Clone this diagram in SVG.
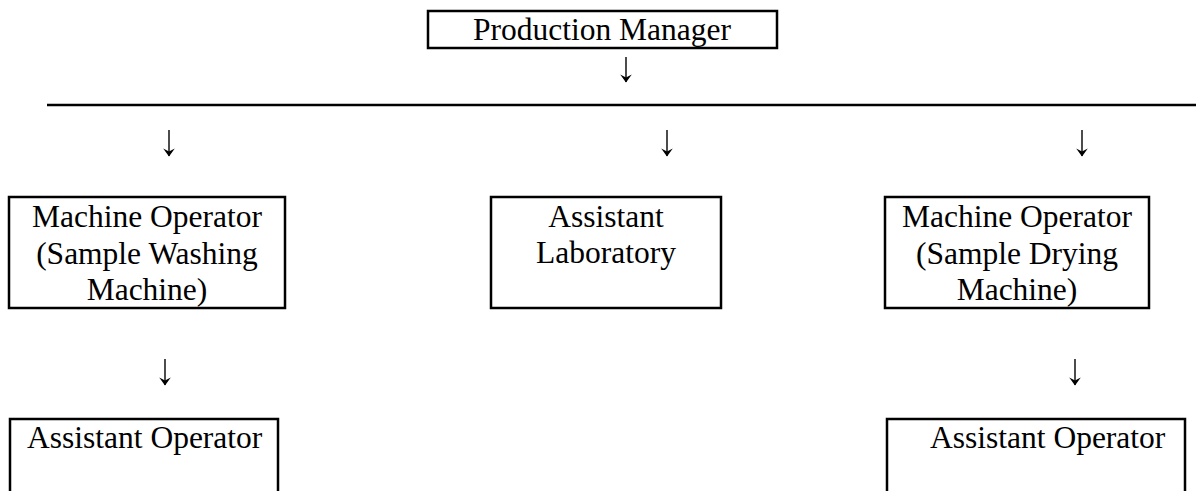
<svg xmlns="http://www.w3.org/2000/svg" width="1196" height="491" viewBox="0 0 1196 491">
<style>
.box{fill:#fff;stroke:#000;stroke-width:2.5}
.t{font-family:"Liberation Serif","Times New Roman",serif;font-size:31.5px;fill:#000}
.c{text-anchor:middle}
.arr{stroke:#000;stroke-width:1.4;fill:none;marker-end:url(#head)}
</style>
<defs>
<marker id="head" markerUnits="userSpaceOnUse" viewBox="-8 -6.5 9 13" refX="0" refY="0" markerWidth="9" markerHeight="13" orient="auto">
<path d="M0.6,0 L-7.5,-5.8 L-4.5,0 L-7.5,5.8 Z" fill="#000"/>
</marker>
</defs>
<rect width="1196" height="491" fill="#fff"/>
<g id="connectors">
<line x1="47" y1="105" x2="1196" y2="105" stroke="#000" stroke-width="2.5"/>
<line class="arr" x1="626" y1="57" x2="626" y2="82"/>
<line class="arr" x1="169" y1="130" x2="169" y2="156"/>
<line class="arr" x1="667" y1="130" x2="667" y2="156"/>
<line class="arr" x1="1082" y1="130" x2="1082" y2="156"/>
<line class="arr" x1="165" y1="359" x2="165" y2="385"/>
<line class="arr" x1="1075" y1="359" x2="1075" y2="385"/>
</g>
<g id="production-manager">
<rect class="box" x="428" y="11" width="349" height="37"/>
<text class="t c" x="602" y="40">Production Manager</text>
</g>
<g id="machine-operator-washing">
<rect class="box" x="9" y="197" width="276" height="111"/>
<text class="t c" x="147" y="227">Machine Operator</text>
<text class="t c" x="147" y="264">(Sample Washing</text>
<text class="t c" x="147" y="300">Machine)</text>
</g>
<g id="assistant-laboratory">
<rect class="box" x="491" y="197" width="230" height="111"/>
<text class="t c" x="606" y="227">Assistant</text>
<text class="t c" x="606" y="263">Laboratory</text>
</g>
<g id="machine-operator-drying">
<rect class="box" x="885" y="197" width="264" height="111"/>
<text class="t c" x="1017" y="227">Machine Operator</text>
<text class="t c" x="1017" y="264">(Sample Drying</text>
<text class="t c" x="1017" y="300">Machine)</text>
</g>
<g id="assistant-operator-left">
<rect class="box" x="10" y="419" width="268" height="90"/>
<text class="t" x="27" y="448">Assistant Operator</text>
</g>
<g id="assistant-operator-right">
<rect class="box" x="887" y="419" width="298" height="90"/>
<text class="t" x="930" y="448">Assistant Operator</text>
</g>
</svg>
